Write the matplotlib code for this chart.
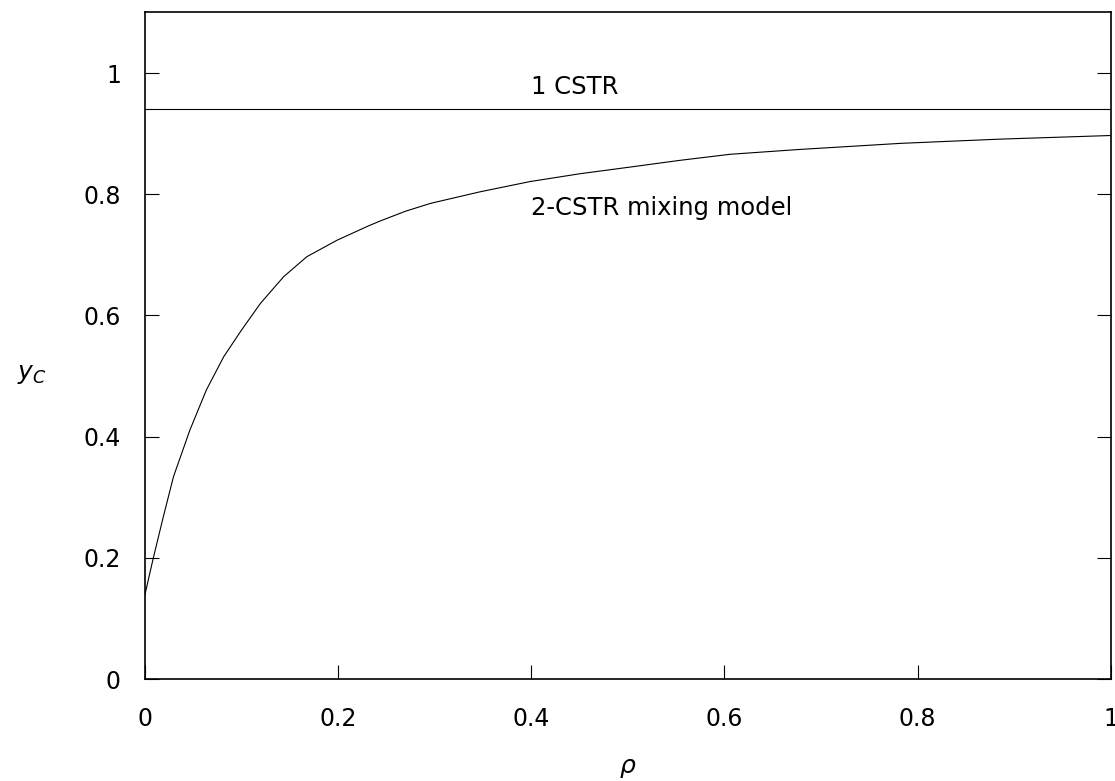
import matplotlib
matplotlib.use("Agg")
import matplotlib.pyplot as plt

# values
rho = [0, 0.009, 0.0195, 0.030, 0.047, 0.064, 0.082, 0.100, 0.120, 0.144,
       0.168, 0.199, 0.232, 0.244, 0.270, 0.296, 0.347, 0.399, 0.451, 0.503,
       0.554, 0.606, 0.678, 0.782, 0.885, 1.0]
yc_mix = [0.136, 0.199, 0.268, 0.334, 0.411, 0.477, 0.532, 0.575, 0.620, 0.664,
          0.697, 0.724, 0.748, 0.756, 0.772, 0.785, 0.804, 0.821, 0.834, 0.845,
          0.856, 0.866, 0.874, 0.884, 0.891, 0.897]
yc_1cstr = 0.941

xticks = [0, 0.2, 0.4, 0.6, 0.8, 1]
yticks = [0, 0.2, 0.4, 0.6, 0.8, 1]
xticklabels = ["0", "0.2", "0.4", "0.6", "0.8", "1"]
yticklabels = ["0", "0.2", "0.4", "0.6", "0.8", "1"]

plt.rcParams['font.family'] = ['DejaVu Sans']
plt.rcParams['mathtext.fontset'] = 'dejavusans'

fig = plt.figure(figsize=(11.15, 7.81), dpi=100)
ax = fig.add_axes([0.1296, 0.1306, 0.8668, 0.8534])

ax.plot(rho, yc_mix, color='black', lw=0.8)
ax.axhline(yc_1cstr, color='black', lw=0.8)

ax.text(0.4, 0.977, "1 CSTR", fontsize=17.5, va='center', ha='left')
ax.text(0.4, 0.777, "2-CSTR mixing model", fontsize=17.5, va='center', ha='left')

ax.set_xlim(0, 1)
ax.set_ylim(0, 1.1)
ax.set_xticks(xticks)
ax.set_xticklabels(xticklabels)
ax.set_yticks(yticks)
ax.set_yticklabels(yticklabels)
ax.tick_params(direction='in', length=10, width=0.8, labelsize=17,
               right=True, top=False)
ax.tick_params(axis='x', pad=20)
ax.tick_params(axis='y', pad=17)
for s in ax.spines.values():
    s.set_linewidth(1.2)

ax.set_xlabel(r"$\rho$", fontsize=18)
ax.xaxis.set_label_coords(0.5, -0.115)
ax.set_ylabel(r"$y_C$", fontsize=18, rotation=0, labelpad=0)
ax.yaxis.set_label_coords(-0.117, 0.44)

fig.savefig("out.png", dpi=100)
